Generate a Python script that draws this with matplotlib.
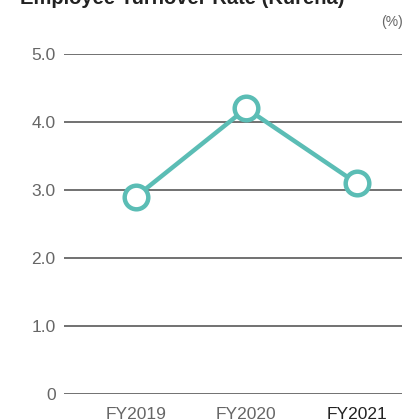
import matplotlib
matplotlib.use("Agg")
import matplotlib.pyplot as plt

years = ["FY2019", "FY2020", "FY2021"]
turnover_rate = [2.9, 4.2, 3.1]
y_ticks = [0, 1, 2, 3, 4, 5]
y_tick_labels = ["0", "1.0", "2.0", "3.0", "4.0", "5.0"]

W, H = 405, 419
fig = plt.figure(figsize=(W / 100, H / 100), dpi=100)
plt.rcParams["font.family"] = ["Liberation Sans", "DejaVu Sans"]

# axes box in pixel terms: x 64..402, y (top) 54..394
left, right, top, bottom = 64, 402, 54, 394
ax = fig.add_axes([left / W, (H - bottom) / H, (right - left) / W, (bottom - top) / H])
ax.set_ylim(0, 5)
ax.set_xlim(-0.65, 2.41)

teal = "#5bbdb5"
x = list(range(len(years)))
ax.plot(x, turnover_rate, color=teal, lw=3.2, marker="o", ms=17,
        markerfacecolor="white", markeredgecolor=teal, markeredgewidth=3.2,
        clip_on=False, zorder=3)

for t in y_ticks:
    ax.axhline(t, color="#4a4a4a", lw=1.1, zorder=1)

for s in ax.spines.values():
    s.set_visible(False)
ax.set_yticks(y_ticks)
ax.set_yticklabels(y_tick_labels)
ax.set_xticks(x)
ax.set_xticklabels(years)
ax.tick_params(axis="y", length=0, pad=6, labelsize=12.5, labelcolor="#666666")
ax.tick_params(axis="x", length=0, pad=9, labelsize=12.5, labelcolor="#666666")
ax.get_xticklabels()[2].set_color("#222222")

fig.text(20 / W, (H - 4) / H, "Employee Turnover Rate (Kureha)", fontsize=14.5,
         fontweight="bold", color="#222222", va="baseline", ha="left")
fig.text(403 / W, (H - 22) / H, "(%)", fontsize=10, color="#666666",
         va="center", ha="right")

fig.savefig("out.png", dpi=100)
